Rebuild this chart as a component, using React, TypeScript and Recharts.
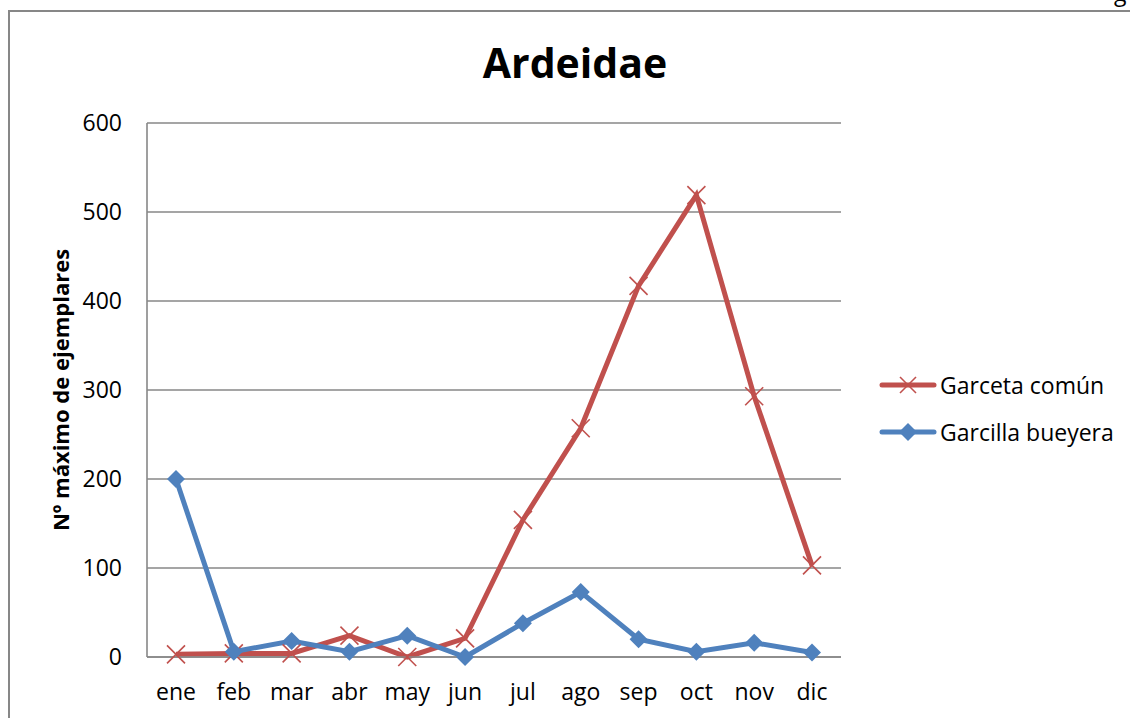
import { CartesianGrid, Line, LineChart, XAxis, YAxis } from "recharts";

const months = ["ene", "feb", "mar", "abr", "may", "jun", "jul", "ago", "sep", "oct", "nov", "dic"];
const garceta = [3, 4, 4, 24, 0, 21, 154, 257, 417, 519, 293, 103];
const garcilla = [200, 6, 18, 6, 24, 0, 38, 73, 20, 6, 16, 5];
const yTicks = [0, 100, 200, 300, 400, 500, 600];

const series = [
  { key: "garceta", name: "Garceta común", color: "#C0504D", shape: "x" },
  { key: "garcilla", name: "Garcilla bueyera", color: "#4F81BD", shape: "diamond" },
];

const data = months.map((m, i) => ({ month: m, garceta: garceta[i], garcilla: garcilla[i] }));

const font = "'Open Sans', sans-serif";
const grey = "#878787";

const Cross = ({ cx, cy, color, r = 9 }: any) => (
  <g>
    <line x1={cx - r} y1={cy - r} x2={cx + r} y2={cy + r} stroke={color} strokeWidth={1.6} />
    <line x1={cx - r} y1={cy + r} x2={cx + r} y2={cy - r} stroke={color} strokeWidth={1.6} />
  </g>
);

const Diamond = ({ cx, cy, color, r = 9 }: any) => (
  <polygon
    points={`${cx},${cy - r} ${cx + r},${cy} ${cx},${cy + r} ${cx - r},${cy}`}
    fill={color}
  />
);

const marker = (shape: string, color: string) => (p: any) =>
  shape === "x" ? (
    <Cross key={p.index} cx={p.cx} cy={p.cy} color={color} />
  ) : (
    <Diamond key={p.index} cx={p.cx} cy={p.cy} color={color} />
  );

export default function App() {
  return (
    <div style={{ position: "relative", width: 1130, height: 718, overflow: "hidden", background: "#fff", fontFamily: font }}>
      <style>{`body{margin:0}`}</style>
      <span style={{ position: "absolute", left: 1114, top: -24, fontSize: 23, color: "#000" }}>g</span>
      <div
        style={{
          position: "absolute",
          left: 8,
          top: 10,
          width: 1300,
          height: 900,
          border: `2px solid ${grey}`,
          boxSizing: "border-box",
        }}
      />
      <div
        style={{
          position: "absolute",
          left: 0,
          width: 1150,
          top: 34,
          textAlign: "center",
          fontSize: 41,
          fontWeight: 700,
          color: "#000",
          lineHeight: "56px",
        }}
      >
        Ardeidae
      </div>
      <div style={{ position: "absolute", left: 0, top: 0 }}>
        <LineChart width={1130} height={718} data={data} margin={{ top: 123, right: 289, bottom: 21, left: 87 }}>
          <CartesianGrid vertical={false} stroke={grey} strokeWidth={1.6} />
          <XAxis
            dataKey="month"
            height={40}
            padding={{ left: 29, right: 29 }}
            tickLine={false}
            axisLine={{ stroke: grey, strokeWidth: 1.6 }}
            tick={{ fill: "#000", fontSize: 23, fontFamily: font }}
            tickMargin={21}
            interval={0}
          />
          <YAxis
            width={60}
            domain={[0, 600]}
            ticks={yTicks}
            tickLine={false}
            axisLine={{ stroke: grey, strokeWidth: 1.6 }}
            tick={{ fill: "#000", fontSize: 23, fontFamily: font }}
            tickMargin={19}
            label={{
              content: () => (
                <text
                  x={60}
                  y={390}
                  transform="rotate(-90 60 390)"
                  textAnchor="middle"
                  dominantBaseline="central"
                  fontSize={22}
                  fontWeight={700}
                  fontFamily={font}
                  fill="#000"
                >
                  Nº máximo de ejemplares
                </text>
              ),
            }}
          />
          {series.map((s) => (
            <Line
              key={s.key}
              dataKey={s.key}
              name={s.name}
              stroke={s.color}
              strokeWidth={5}
              type="linear"
              dot={marker(s.shape, s.color)}
              activeDot={false}
              isAnimationActive={false}
            />
          ))}
        </LineChart>
      </div>
      {series.map((s, i) => (
        <div
          key={s.key}
          style={{
            position: "absolute",
            left: 878,
            top: 385 + i * 47 - 16,
            height: 32,
            display: "flex",
            alignItems: "center",
            fontSize: 23,
            color: "#000",
            whiteSpace: "nowrap",
          }}
        >
          <svg width={60} height={32}>
            <line x1={4} y1={16} x2={56} y2={16} stroke={s.color} strokeWidth={5} strokeLinecap="round" />
            {s.shape === "x" ? <Cross cx={30} cy={16} color={s.color} r={8} /> : <Diamond cx={30} cy={16} color={s.color} r={9} />}
          </svg>
          <span style={{ marginLeft: 2 }}>{s.name}</span>
        </div>
      ))}
    </div>
  );
}
